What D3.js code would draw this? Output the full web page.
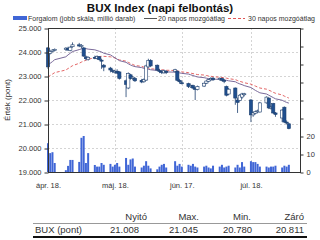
<!DOCTYPE html>
<html>
<head>
<meta charset="utf-8">
<script src="https://cdn.jsdelivr.net/npm/d3@7"></script>
<style>
    html, body { margin: 0; padding: 0; background: #fff; }
    svg { display: block; font-family: "Liberation Sans", Arial, sans-serif; }
</style>
</head>
<body>
<svg id="chart" width="320" height="240"></svg>
<script>
'use strict';

/*==============================
=            Data              =
==============================*/

var dates = ["04-18","04-19","04-20","04-21","04-26","04-27","04-28","04-29",
    "05-02","05-03","05-04","05-05","05-06","05-09","05-10","05-11","05-12","05-13",
    "05-16","05-17","05-18","05-19","05-20","05-23","05-24","05-25","05-26","05-27",
    "05-30","05-31","06-01","06-02","06-03","06-06","06-07","06-08","06-09","06-10",
    "06-14","06-15","06-16","06-17","06-20","06-21","06-22","06-23","06-24",
    "06-27","06-28","06-29","06-30","07-01","07-04","07-05","07-06","07-07","07-08",
    "07-11","07-12","07-13","07-14","07-15","07-18","07-19","07-20","07-21","07-22",
    "07-25","07-26","07-27","07-28","07-29","08-01","08-02","08-03","08-04"];

var openV  = [24170,23950,24020,24080,24100,24160,24060,24220,24300,24230,24170,23800,23700,23780,23740,23800,23660,23450,
    23330,23230,23150,23200,23170,22800,22500,23050,22900,22900,22820,22760,22830,23380,23650,23450,23230,23180,23130,23200,
    23180,23200,22820,22720,22680,22550,22600,22500,22440,22580,22700,22780,22840,22910,22850,22900,22820,22560,22250,
    22500,22000,21980,22120,22220,22000,21380,21450,21520,21500,21880,22080,21650,21850,21460,21250,21700,21080,21008];
var highV  = [24210,24060,24110,24150,24200,24220,24250,24400,24380,24330,24200,23850,23820,23850,23860,23830,23720,23500,
    23380,23300,23260,23280,23200,22850,23150,23080,23000,22950,22880,22900,23470,23720,23700,23480,23300,23250,23260,23240,
    23300,23230,22880,22800,22720,22650,22640,22540,22600,22720,22820,22880,22950,22960,22940,22930,22880,22600,22500,
    22520,22100,22250,22300,22300,22040,21500,21560,21600,21920,22150,22100,21760,21880,21500,21620,21730,21150,21045];
var lowV   = [23300,23900,23990,24030,24050,24050,24030,24180,24200,24150,23800,23650,23640,23700,23690,23650,23300,23200,
    23150,23120,23100,23080,22850,22120,22450,22850,22820,22750,22700,22720,22800,23340,23380,23200,23120,23080,23100,23080,
    23150,22780,22680,22650,22500,22500,22450,22000,22400,22540,22660,22740,22800,22800,22810,22780,22700,22150,22200,
    21800,21460,21950,22050,22150,21080,21300,21400,21450,21480,21850,21620,21600,21420,21300,21080,21050,20980,20780];
var closeV = [23380,24020,24080,24110,24160,24080,24200,24300,24250,24280,23830,23720,23780,23740,23820,23680,23620,23370,
    23250,23180,23200,23120,22900,22650,23100,22900,22950,22800,22750,22850,23420,23650,23420,23250,23200,23140,23220,23150,
    23260,22820,22760,22700,22560,22610,22500,22440,22560,22700,22790,22850,22900,22840,22900,22820,22780,22200,22450,
    22080,21900,22200,22250,22260,21380,21460,21520,21550,21880,22120,21670,21700,21460,21400,21580,21080,21050,20811];

// Forgalom, millió darab (jobb skála)
var volumeV = [16,10.5,11,5,1,3.4,6.7,6.7,5.6,19,20,5,10.5,3.9,3,3,5,4,
    4.5,3,4,5,3,7.8,4,7,7.5,3,2.5,3.5,6,3.5,2,1.5,3,4,4.5,2.5,
    6,3.5,4.5,3,4,3.5,4.5,3,2.5,3,3.5,2.5,2,3.5,3,4,2.5,3,3.5,
    2.5,4,2.5,5.5,3,6,5.5,5.5,4.5,3,3,2.5,3,3,3.5,2.5,3.5,3,4];

var ma20V = [23460,23530,23600,23680,23800,23880,23950,24020,24100,24130,24150,24140,24120,24090,24060,24030,24000,23950,
    23880,23820,23760,23700,23640,23570,23510,23460,23420,23390,23350,23320,23300,23280,23260,23230,23210,23190,23180,23170,
    23160,23150,23130,23110,23080,23050,23020,22990,22960,22930,22910,22890,22880,22870,22860,22850,22840,22820,22800,
    22760,22710,22670,22640,22600,22520,22460,22400,22350,22300,22250,22200,22150,22100,22050,21990,21940,21900,21870];
var ma30V = [22960,23020,23080,23140,23250,23310,23370,23430,23530,23580,23620,23660,23700,23760,23790,23810,23820,23820,
    23800,23780,23750,23710,23670,23620,23570,23520,23480,23440,23400,23370,23340,23320,23300,23280,23270,23260,23250,23240,
    23230,23210,23190,23170,23140,23120,23100,23080,23060,23040,23020,23000,22990,22970,22950,22940,22930,22910,22890,
    22850,22810,22780,22750,22720,22660,22620,22580,22540,22500,22450,22410,22370,22320,22280,22210,22160,22120,22080];

var yTicks      = [19000, 20000, 21000, 22000, 23000, 24000, 25000];
var yRightTicks = [0, 10, 20, 30, 40, 50, 60, 70, 80];
var xTickDates  = ["04-18", "05-18", "06-17", "07-18"];
var xTickLabels = ["ápr. 18.", "máj. 18.", "jún. 17.", "júl. 18."];

var tableHeads  = ["Nyitó", "Max.", "Min.", "Záró"];
var tableValues = ["21.008", "21.045", "20.780", "20.811"];

/*=====  End of Data  ======*/

var parse = d3.timeParse("%Y-%m-%d");
function toDate(s) { return parse("2011-" + s); }

var rows = dates.map(function (d, i) {
    return {
        date: toDate(d), open: openV[i], high: highV[i], low: lowV[i],
        close: closeV[i], vol: volumeV[i], ma20: ma20V[i], ma30: ma30V[i]
    };
});

var margin = { left: 48, right: 300, top: 28, bottom: 172 };

var x  = d3.scaleTime().domain([toDate("04-18"), toDate("08-09")]).range([margin.left, margin.right]);
var yL = d3.scaleLinear().domain([19000, 25000]).range([margin.bottom, margin.top]);
var yR = d3.scaleLinear().domain([0, 80]).range([margin.bottom, margin.top]);

var huFmt = d3.formatLocale({ decimal: ",", thousands: ".", grouping: [3], currency: ["", ""] }).format(",d");

var svg = d3.select("#chart");

// Title
svg.append("text")
    .attr("x", 160).attr("y", 12)
    .attr("text-anchor", "middle")
    .style("font-size", "11.5px").style("font-weight", "bold").attr("fill", "#111")
    .text("BUX Index (napi felbontás)");

// Legend
var leg = svg.append("g").style("font-size", "7px").attr("fill", "#333");
leg.append("rect").attr("x", 13).attr("y", 16).attr("width", 14).attr("height", 4).attr("fill", "#4066d6");
leg.append("text").attr("x", 28).attr("y", 20.5).text("Forgalom (jobb skála, millió darab)");
leg.append("line").attr("x1", 144).attr("x2", 157).attr("y1", 18.5).attr("y2", 18.5)
    .attr("stroke", "#555").attr("stroke-width", 1);
leg.append("text").attr("x", 158).attr("y", 20.5).text("20 napos mozgóátlag");
leg.append("line").attr("x1", 228).attr("x2", 245).attr("y1", 18.5).attr("y2", 18.5)
    .attr("stroke", "#e05555").attr("stroke-width", 1).attr("stroke-dasharray", "3,2");
leg.append("text").attr("x", 248).attr("y", 20.5).text("30 napos mozgóátlag");

/*==============================
=            Grid              =
==============================*/
var grid = svg.append("g").attr("stroke", "#d4d4d4").attr("stroke-dasharray", "2,2");
grid.selectAll(".hg").data(yTicks.slice(1, -1)).enter().append("line")
    .attr("x1", margin.left).attr("x2", margin.right)
    .attr("y1", function (d) { return Math.round(yL(d)) + 0.5; })
    .attr("y2", function (d) { return Math.round(yL(d)) + 0.5; });
grid.selectAll(".vg").data(xTickDates.slice(1)).enter().append("line")
    .attr("y1", margin.top).attr("y2", margin.bottom)
    .attr("x1", function (d) { return Math.round(x(toDate(d))) + 0.5; })
    .attr("x2", function (d) { return Math.round(x(toDate(d))) + 0.5; });

// Volume bars
svg.append("g").selectAll("rect").data(rows).enter().append("rect")
    .attr("x", function (d) { return x(d.date) - 1; })
    .attr("width", 2)
    .attr("y", function (d) { return yR(d.vol); })
    .attr("height", function (d) { return yR(0) - yR(d.vol); })
    .attr("fill", "#4066d6");

// Moving averages
var line20 = d3.line().x(function (d) { return x(d.date); }).y(function (d) { return yL(d.ma20); });
var line30 = d3.line().x(function (d) { return x(d.date); }).y(function (d) { return yL(d.ma30); });
svg.append("path").datum(rows).attr("d", line30)
    .attr("fill", "none").attr("stroke", "#e05555").attr("stroke-width", 0.9).attr("stroke-dasharray", "3,2");
svg.append("path").datum(rows).attr("d", line20)
    .attr("fill", "none").attr("stroke", "#7a6a9a").attr("stroke-width", 1);

// Candles
var candle = svg.append("g").selectAll("g").data(rows).enter().append("g");
candle.append("line")
    .attr("x1", function (d) { return x(d.date); }).attr("x2", function (d) { return x(d.date); })
    .attr("y1", function (d) { return yL(d.high); }).attr("y2", function (d) { return yL(d.low); })
    .attr("stroke", "#1d3f6e").attr("stroke-width", 0.8);
candle.append("rect")
    .attr("x", function (d) { return x(d.date) - 1.6; })
    .attr("width", 3.2)
    .attr("y", function (d) { return yL(Math.max(d.open, d.close)); })
    .attr("height", function (d) { return Math.max(1, Math.abs(yL(d.open) - yL(d.close))); })
    .attr("fill", function (d) { return d.close >= d.open ? "#fff" : "#1f4f8f"; })
    .attr("stroke", "#1d3f6e").attr("stroke-width", 0.6);

/*==============================
=            Axes              =
==============================*/
svg.append("rect")
    .attr("x", margin.left + 0.5).attr("y", margin.top + 0.5)
    .attr("width", margin.right - margin.left).attr("height", margin.bottom - margin.top)
    .attr("fill", "none").attr("stroke", "#333");

var leftAxis = svg.append("g").attr("transform", "translate(" + (margin.left + 0.5) + ",0.5)")
    .call(d3.axisLeft(yL).tickValues(yTicks).tickFormat(huFmt).tickSize(4).tickPadding(3));

var rightAxis = svg.append("g").attr("transform", "translate(" + (margin.right + 0.5) + ",0.5)")
    .call(d3.axisRight(yR).tickValues(yRightTicks)
        .tickFormat(function (d) { return d <= 20 ? d : ""; }).tickSize(3).tickPadding(3));

var bottomAxis = svg.append("g").attr("transform", "translate(0," + (margin.bottom + 0.5) + ")")
    .call(d3.axisBottom(x).tickValues(xTickDates.map(toDate))
        .tickFormat(function (d, i) { return xTickLabels[i]; }).tickSize(0).tickPadding(10));

[leftAxis, rightAxis, bottomAxis].forEach(function (a) {
    a.select(".domain").remove();
    a.selectAll("line").attr("stroke", "#333");
    a.selectAll("text").attr("fill", "#333").style("font-size", "7.5px")
        .style("font-family", "\"Liberation Sans\", Arial, sans-serif");
});

svg.append("text")
    .attr("transform", "translate(10,100) rotate(-90)")
    .attr("text-anchor", "middle")
    .style("font-size", "8px").attr("fill", "#333")
    .text("Érték (pont)");

/*==============================
=            Table             =
==============================*/
var colRight = [147, 199, 251, 304];
var valRight = [139, 198, 252, 304];
var table = svg.append("g").style("font-size", "9.5px").attr("fill", "#333");
table.selectAll(".th").data(tableHeads).enter().append("text")
    .attr("x", function (d, i) { return colRight[i]; }).attr("y", 220)
    .attr("text-anchor", "end").text(function (d) { return d; });
table.append("line").attr("x1", 33).attr("x2", 307).attr("y1", 223.5).attr("y2", 223.5)
    .attr("stroke", "#999").attr("stroke-width", 1);
table.append("text").attr("x", 35).attr("y", 233).text("BUX (pont)");
table.selectAll(".td").data(tableValues).enter().append("text")
    .attr("x", function (d, i) { return valRight[i]; }).attr("y", 233)
    .attr("text-anchor", "end").text(function (d) { return d; });
table.append("line").attr("x1", 33).attr("x2", 307).attr("y1", 237).attr("y2", 237)
    .attr("stroke", "#111").attr("stroke-width", 2);
</script>
</body>
</html>
